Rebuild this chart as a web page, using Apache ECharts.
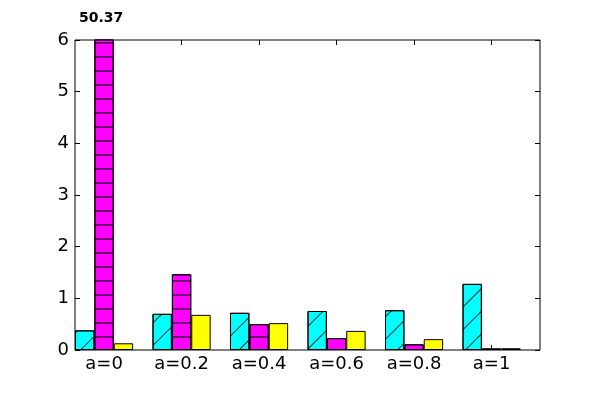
<!DOCTYPE html>
<html><head><meta charset="utf-8">
<script src="https://cdn.jsdelivr.net/npm/echarts@6/dist/echarts.min.js"></script>
<style>html,body{margin:0;padding:0;background:#fff}#c{width:600px;height:400px}</style>
</head><body><div id="c"></div>
<script>
var categories = ['a=0', 'a=0.2', 'a=0.4', 'a=0.6', 'a=0.8', 'a=1'];
var cyanValues = [0.38, 0.70, 0.72, 0.755, 0.77, 1.28];
var magentaValues = [50.37, 1.465, 0.50, 0.23, 0.11, 0.03];
var yellowValues = [0.13, 0.68, 0.52, 0.37, 0.21, 0.035];
var yTicks = [0, 1, 2, 3, 4, 5, 6];
var yMax = 6;

var chart = echarts.init(document.getElementById('c'), null, {renderer: 'canvas'});
var FONT = 'DejaVu Sans';
var plotL = 75, plotR = 540, band = (plotR - plotL) / 6, shift = band * 0.125;

function barSeries(name, vals, color, decal) {
  return {
    type: 'bar', name: name, data: vals, xAxisIndex: 0, yAxisIndex: 0,
    barWidth: '25%', barGap: '0%', clip: true,
    itemStyle: {color: color, borderColor: '#000', borderWidth: 1, decal: decal},
    emphasis: {disabled: true}, silent: true, animation: false
  };
}
var cyanDecal = {symbol: 'rect', symbolSize: 1, dashArrayX: [1, 0], dashArrayY: [1, 14.9], rotation: -Math.PI / 4, color: 'rgba(0,0,0,0.8)'};
var magDecal = {symbol: 'rect', symbolSize: 1, dashArrayX: [1, 0], dashArrayY: [1.4, 11.3], rotation: 0, color: 'rgba(0,0,0,0.55)'};

var mag = barSeries('m', magentaValues, '#ff00ff', magDecal);
mag.markPoint = {
  symbol: 'circle', symbolSize: 0, silent: true, animation: false,
  data: [{coord: [0, yMax], value: magentaValues[0]}],
  label: {show: true, position: 'inside', offset: [-3, -22], formatter: function (p) { return String(p.value); },
    fontFamily: FONT, fontWeight: 'bold', fontSize: 14, color: '#000'}
};

chart.setOption({
  animation: false,
  grid: [
    {left: plotL - shift, right: 600 - plotR + shift, top: 40, bottom: 50, show: false},
    {left: plotL, right: 600 - plotR, top: 40, bottom: 50, show: true, borderColor: '#000', borderWidth: 1, backgroundColor: 'transparent'}
  ],
  xAxis: [
    {type: 'category', data: categories, gridIndex: 0, position: 'bottom',
      axisLine: {show: false}, axisTick: {show: true, inside: true, alignWithLabel: true, length: 5, lineStyle: {color: '#000'}},
      axisLabel: {fontFamily: FONT, fontSize: 18, color: '#000', margin: 5}, splitLine: {show: false}},
    {type: 'category', data: categories, gridIndex: 0, position: 'top',
      axisLine: {show: false}, axisTick: {show: true, inside: true, alignWithLabel: true, length: 5, lineStyle: {color: '#000'}},
      axisLabel: {show: false}, splitLine: {show: false}},
    {type: 'value', gridIndex: 1, min: 0, max: 6, show: false}
  ],
  yAxis: [
    {type: 'value', gridIndex: 0, min: 0, max: yMax, show: false},
    {type: 'value', gridIndex: 1, min: 0, max: yMax, interval: 1, position: 'left',
      axisLine: {show: false}, axisTick: {show: true, inside: true, length: 5, lineStyle: {color: '#000'}},
      axisLabel: {fontFamily: FONT, fontSize: 18, color: '#000', margin: 6, formatter: function (v) { return yTicks.indexOf(v) >= 0 ? String(v) : ''; }},
      splitLine: {show: false}},
    {type: 'value', gridIndex: 1, min: 0, max: yMax, interval: 1, position: 'right',
      axisLine: {show: false}, axisTick: {show: true, inside: true, length: 5, lineStyle: {color: '#000'}},
      axisLabel: {show: false}, splitLine: {show: false}}
  ],
  series: [
    barSeries('c', cyanValues, '#00ffff', cyanDecal),
    mag,
    barSeries('y', yellowValues, '#ffff00', null)
  ]
});
</script></body></html>
